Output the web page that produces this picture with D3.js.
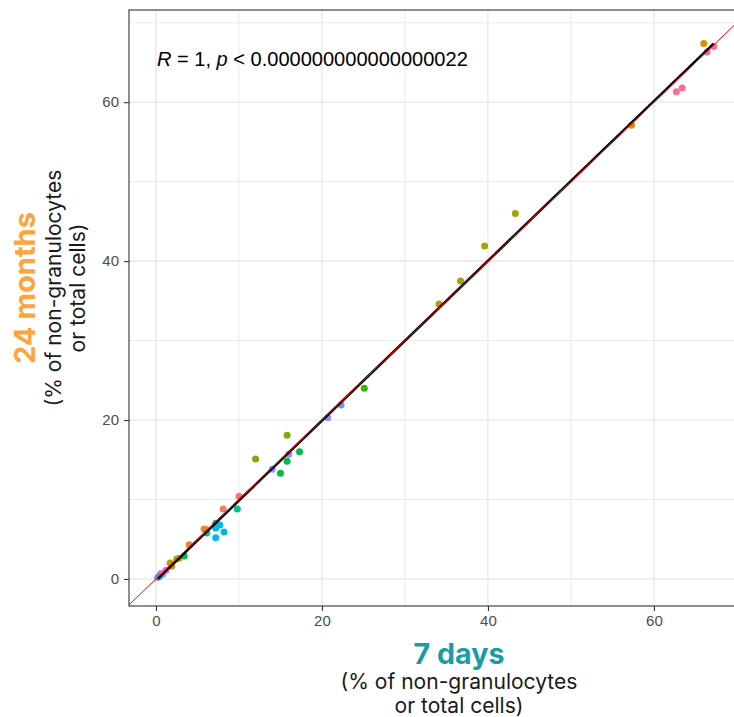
<!DOCTYPE html>
<html>
<head>
<meta charset="utf-8">
<script src="https://cdn.jsdelivr.net/npm/d3@7"></script>
<style>
  body { margin: 0; background: #fff; }
  svg { font-family: "Liberation Sans", Arial, sans-serif; }
</style>
</head>
<body>
<div id="chart"></div>
<script>
// cell populations (only colours are visible in the chart)
const groups = ["p1", "p2", "p3", "p4", "p5", "p6", "p7", "p8", "p9", "p10", "p11", "p12", "p13"];
const groupColors = ["#F8766D", "#E8853A", "#C99800", "#A3A500", "#7CAE00", "#39B600", "#00BB4E",
                     "#00C08B", "#00B8E7", "#619CFF", "#9590FF", "#E76BF3", "#FF6C91"];

// % at 7 days (x) and 24 months (y), with population index
const days7 = [10.0, 8.1, 5.8, 6.1, 4.0, 66.0, 57.3, 2.5, 2.8, 1.9, 1.7,
               43.3, 39.6, 36.7, 34.1, 15.8, 12.0, 25.1, 17.3, 15.8, 15.0, 3.4,
               9.8, 7.2, 6.1, 7.7, 7.2, 8.2, 7.2, 22.3, 0.2, 20.7, 16.0, 14.0, 0.8,
               0.6, 1.2, 66.4, 67.2, 62.7, 63.4, 0.5, 0.4];
const months24 = [10.4, 8.8, 6.3, 6.2, 4.3, 67.4, 57.1, 2.5, 2.6, 1.6, 2.0,
                  46.0, 41.9, 37.5, 34.6, 18.1, 15.1, 24.0, 16.0, 14.8, 13.3, 2.9,
                  8.8, 7.0, 5.8, 6.8, 6.4, 5.9, 5.2, 21.9, 0.2, 20.3, 15.7, 13.8, 0.6,
                  0.7, 1.1, 66.3, 67.0, 61.3, 61.8, 0.5, 0.3];
const pointGroup = [0, 0, 1, 1, 1, 2, 2, 2, 2, 2, 2,
                    3, 3, 3, 3, 4, 4, 5, 6, 6, 6, 6,
                    7, 7, 7, 8, 8, 8, 8, 9, 9, 10, 10, 10, 10,
                    11, 11, 12, 12, 12, 12, 12, 8];

const xTicks = [0, 20, 40, 60];
const yTicks = [0, 20, 40, 60];
const statLabel = { r: "1", p: "0.000000000000000022" };

const width = 734, height = 717;
const panel = { left: 129, right: 744, top: 10, bottom: 606 };

const svg = d3.select("#chart").append("svg")
    .attr("width", width)
    .attr("height", height);

const x = d3.scaleLinear().domain([-3.25, 70.85]).range([panel.left, panel.right]);
const y = d3.scaleLinear().domain([-3.4, 71.6]).range([panel.bottom, panel.top]);

const data = days7.map((d, i) => ({ x: d, y: months24[i], g: pointGroup[i] }));

// work out the font size that makes a text span the wanted width
function fitWidth(sel, target, start) {
  sel.style("font-size", start + "px");
  const w = sel.node().getComputedTextLength();
  const size = start * target / w;
  sel.style("font-size", size.toFixed(2) + "px");
  return size;
}

const plot = svg.append("g");
plot.append("clipPath").attr("id", "clip")
  .append("rect")
    .attr("x", panel.left).attr("y", panel.top)
    .attr("width", panel.right - panel.left).attr("height", panel.bottom - panel.top);

// grid
const minor = [10, 30, 50, 70];
plot.selectAll(".vminor").data(minor).enter().append("line")
    .attr("x1", d => x(d)).attr("x2", d => x(d))
    .attr("y1", panel.top).attr("y2", panel.bottom)
    .attr("stroke", "#EBEBEB").attr("stroke-width", 1);
plot.selectAll(".hminor").data(minor).enter().append("line")
    .attr("y1", d => y(d)).attr("y2", d => y(d))
    .attr("x1", panel.left).attr("x2", panel.right)
    .attr("stroke", "#EBEBEB").attr("stroke-width", 1);
plot.selectAll(".vmajor").data(xTicks).enter().append("line")
    .attr("x1", d => x(d)).attr("x2", d => x(d))
    .attr("y1", panel.top).attr("y2", panel.bottom)
    .attr("stroke", "#EBEBEB").attr("stroke-width", 1.6);
plot.selectAll(".hmajor").data(yTicks).enter().append("line")
    .attr("y1", d => y(d)).attr("y2", d => y(d))
    .attr("x1", panel.left).attr("x2", panel.right)
    .attr("stroke", "#EBEBEB").attr("stroke-width", 1.6);

// points
plot.selectAll("circle").data(data).enter().append("circle")
    .attr("cx", d => x(d.x))
    .attr("cy", d => y(d.y))
    .attr("r", 3.5)
    .attr("fill", d => groupColors[d.g]);

// linear fit
const mx = d3.mean(data, d => d.x), my = d3.mean(data, d => d.y);
const slope = d3.sum(data, d => (d.x - mx) * (d.y - my)) / d3.sum(data, d => (d.x - mx) * (d.x - mx));
const icpt = my - slope * mx;
const [x0, x1] = d3.extent(data, d => d.x);
plot.append("line")
    .attr("x1", x(x0)).attr("y1", y(icpt + slope * x0))
    .attr("x2", x(x1)).attr("y2", y(icpt + slope * x1))
    .attr("stroke", "#000").attr("stroke-width", 2.6);

// identity line
plot.append("line")
    .attr("clip-path", "url(#clip)")
    .attr("x1", x(-10)).attr("y1", y(-10))
    .attr("x2", x(80)).attr("y2", y(80))
    .attr("stroke", "#FF0000").attr("stroke-width", 1);

// border
svg.append("rect")
    .attr("x", panel.left).attr("y", panel.top)
    .attr("width", panel.right - panel.left).attr("height", panel.bottom - panel.top)
    .attr("fill", "none").attr("stroke", "#333333").attr("stroke-width", 1.1);

// axes
const xAxis = svg.append("g")
    .attr("transform", "translate(0," + panel.bottom + ")")
    .call(d3.axisBottom(x).tickValues(xTicks).tickSize(5).tickPadding(4));
const yAxis = svg.append("g")
    .attr("transform", "translate(" + panel.left + ",0)")
    .call(d3.axisLeft(y).tickValues(yTicks).tickSize(5).tickPadding(5));
[xAxis, yAxis].forEach(a => {
  a.select(".domain").remove();
  a.selectAll("line").attr("stroke", "#333333").attr("stroke-width", 1.1);
  a.selectAll("text").attr("fill", "#4D4D4D").style("font-size", "15px")
    .style("font-family", "'Liberation Sans', Arial, sans-serif");
});

// stat label
const st = svg.append("text")
    .attr("x", 157).attr("y", 66)
    .attr("fill", "#000");
st.append("tspan").style("font-style", "italic").text("R");
st.append("tspan").text(" = " + statLabel.r + ", ");
st.append("tspan").style("font-style", "italic").text("p");
st.append("tspan").text(" < " + statLabel.p);
fitWidth(st, 311, 18);

const titleFont = "Inter, 'Open Sans', sans-serif";

// draws the bold title plus the two-line unit text, all centred on x=0
function axisTitle(g, title, color, titleWidth, ys) {
  g.style("font-family", titleFont);
  fitWidth(g.append("text").attr("y", ys[0]).attr("text-anchor", "middle")
      .style("font-weight", "bold").attr("fill", color)
      .text(title), titleWidth, 27);
  const sub1 = g.append("text").attr("y", ys[1]).attr("text-anchor", "middle")
      .attr("fill", "#1A1A1A")
      .text("(% of non-granulocytes");
  const size = fitWidth(sub1, 237, 20);
  g.append("text").attr("y", ys[2]).attr("text-anchor", "middle")
      .attr("fill", "#1A1A1A")
      .style("font-size", size.toFixed(2) + "px")
      .text("or total cells)");
}

axisTitle(svg.append("g").attr("transform", "translate(459,0)"),
    "7 days", "#1A9CA8", 91, [664, 689, 713]);
axisTitle(svg.append("g").attr("transform", "translate(0,288) rotate(-90)"),
    "24 months", "#FBA53C", 152, [35, 61, 85]);
</script>
</body>
</html>
